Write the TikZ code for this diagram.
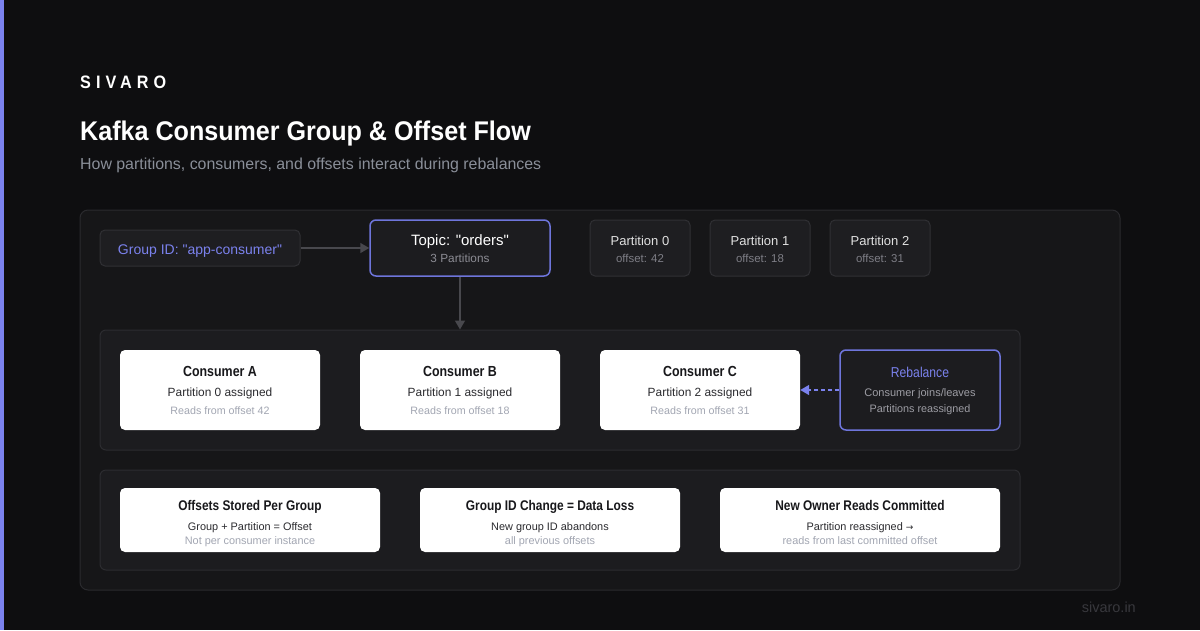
\documentclass[tikz,border=0pt]{standalone}
\usepackage{fontspec}
\setmainfont[Ligatures=TeXOff]{Liberation Sans}
\newfontfamily\hdfont[FakeStretch=0.85]{Liberation Sans}
\newfontfamily\ttlfont[FakeStretch=0.93]{Liberation Sans}
\newfontfamily\brandfont[FakeStretch=0.9,LetterSpace=28]{Liberation Sans}
\newfontfamily\symfont{DejaVu Sans}
\usetikzlibrary{arrows.meta}
\newcommand\fsz[1]{\fontsize{#1}{#1}\selectfont}
\definecolor{bg}{HTML}{0E0E10}
\definecolor{panel}{HTML}{161618}
\definecolor{panelb}{HTML}{2A2A2E}
\definecolor{inner}{HTML}{1C1C1F}
\definecolor{innerb}{HTML}{2C2C30}
\definecolor{sbox}{HTML}{1E1E21}
\definecolor{sboxb}{HTML}{303034}
\definecolor{accent}{HTML}{7B82EE}
\definecolor{accentb}{HTML}{6E75DB}
\definecolor{darktxt}{HTML}{18181B}
\definecolor{midtxt}{HTML}{2B2B2F}
\definecolor{lighttxt}{HTML}{A2A6B2}
\definecolor{subtxt}{HTML}{8A8F99}
\definecolor{graytxt}{HTML}{8C8C94}
\definecolor{offtxt}{HTML}{7E7E86}
\definecolor{arrowc}{HTML}{48484D}
\definecolor{foot}{HTML}{38383D}
\tikzset{
  outerpanel/.style={draw=panelb, fill=panel, line width=1pt, rounded corners=8pt},
  innerpanel/.style={draw=innerb, fill=inner, line width=1pt, rounded corners=6pt},
  darkbox/.style={draw=sboxb, fill=sbox, line width=1pt, rounded corners=5pt, inner sep=0pt},
  accbox/.style={draw=accentb, fill=inner, line width=1.5pt, rounded corners=6pt, inner sep=0pt},
  whitebox/.style={fill=white, rounded corners=5pt, inner sep=0pt},
  txt/.style={anchor=base, inner sep=0pt},
  conn/.style={draw=arrowc, line width=1.5pt, -{Triangle[length=9pt,width=10pt]}},
  dconn/.style={draw=accent, line width=1.5pt, dash pattern=on 4pt off 3pt, -{Triangle[length=9pt,width=10pt]}},
}
\begin{document}
\begin{tikzpicture}[x=1pt,y=-1pt]
\useasboundingbox (0,0) rectangle (1200,630);
\fill[bg] (0,0) rectangle (1200,630);
\fill[accent] (0,0) rectangle (4,630);

% header
\node[anchor=base west, inner sep=0pt, text=white, font=\brandfont\bfseries\fsz{18}] (brand) at (80,88) {SIVARO};
\node[anchor=base west, inner sep=0pt, text=white, font=\ttlfont\bfseries\fsz{27}] (title) at (80,140) {Kafka Consumer Group \& Offset Flow};
\node[anchor=base west, inner sep=0pt, text=subtxt, font=\fsz{15.9}] (subtitle) at (80,169) {How partitions, consumers, and offsets interact during rebalances};

% panels
\draw[outerpanel] (80,210) rectangle (1120,590);
\node[innerpanel, minimum width=920pt, minimum height=120pt, inner sep=0pt] (cpanel) at (560,390) {};
\node[innerpanel, minimum width=920pt, minimum height=100pt, inner sep=0pt] (bpanel) at (560,520) {};

% top row
\node[darkbox, minimum width=200pt, minimum height=36pt] (gid) at (200,248) {};
\node[txt, text=accent, font=\fsz{14}] (gidt) at (200,254) {Group ID: "app-consumer"};

\node[accbox, minimum width=180pt, minimum height=56pt] (topic) at (460,248) {};
\node[txt, text=white, font=\fsz{15}] (topict) at (460,245) {Topic: "orders"};
\node[txt, text=graytxt, font=\fsz{11.8}] (topics) at (460,262) {3 Partitions};

\foreach \i/\x/\o in {0/640/42,1/760/18,2/880/31}{
  \node[darkbox, minimum width=100pt, minimum height=56pt] (p\i) at (\x,248) {};
  \node[txt, text=white!88!black, font=\fsz{13}] (p\i t) at (\x,245) {Partition \i};
  \node[txt, text=offtxt, font=\fsz{11.4}] (p\i o) at (\x,262) {offset: \o};
}

% consumers
\foreach \n/\x/\i/\o in {A/220/0/42,B/460/1/18,C/700/2/31}{
  \node[whitebox, minimum width=200pt, minimum height=80pt] (c\n) at (\x,390) {};
  \node[txt, text=darktxt, font=\hdfont\bfseries\fsz{14.6}] (c\n t) at (\x,376.5) {Consumer \n};
  \node[txt, text=midtxt, font=\fsz{11.9}] (c\n p) at (\x,396) {Partition \i{} assigned};
  \node[txt, text=lighttxt, font=\fsz{10.7}] (c\n r) at (\x,414) {Reads from offset \o};
}

\node[accbox, minimum width=160pt, minimum height=80pt] (reb) at (920,390) {};
\node[txt, text=accent, font=\hdfont\fsz{14.3}] (rebt) at (920,377) {Rebalance};
\node[txt, text=graytxt!85!white, font=\fsz{11}] (reb1) at (920,396) {Consumer joins/leaves};
\node[txt, text=graytxt!85!white, font=\fsz{10.8}] (reb2) at (920,412.5) {Partitions reassigned};

% bottom
\node[whitebox, minimum width=260pt, minimum height=64pt] (b1) at (250,520) {};
\node[txt, text=darktxt, font=\hdfont\bfseries\fsz{14}] (b1t) at (250,510) {Offsets Stored Per Group};
\node[txt, text=midtxt, font=\fsz{10.9}] (b1a) at (250,530) {Group + Partition = Offset};
\node[txt, text=lighttxt, font=\fsz{10.9}] (b1b) at (250,544) {Not per consumer instance};

\node[whitebox, minimum width=260pt, minimum height=64pt] (b2) at (550,520) {};
\node[txt, text=darktxt, font=\hdfont\bfseries\fsz{14}] (b2t) at (550,510) {Group ID Change = Data Loss};
\node[txt, text=midtxt, font=\fsz{10.9}] (b2a) at (550,530) {New group ID abandons};
\node[txt, text=lighttxt, font=\fsz{10.9}] (b2b) at (550,544) {all previous offsets};

\node[whitebox, minimum width=280pt, minimum height=64pt] (b3) at (860,520) {};
\node[txt, text=darktxt, font=\hdfont\bfseries\fsz{14}] (b3t) at (860,510) {New Owner Reads Committed};
\node[txt, text=midtxt, font=\fsz{10.9}] (b3a) at (860,530) {Partition reassigned {\symfont\fsz{9}→}};
\node[txt, text=lighttxt, font=\fsz{10.9}] (b3b) at (860,544) {reads from last committed offset};

\node[anchor=base east, inner sep=0pt, text=foot, font=\fsz{14.5}] (footer) at (1136,612) {sivaro.in};

% connectors
\draw[conn] (gid.east) -- (topic.west);
\draw[conn] (topic.south) -- (cpanel.north -| topic.south);
\draw[dconn] (reb.west) -- (cC.east);
\end{tikzpicture}
\end{document}
